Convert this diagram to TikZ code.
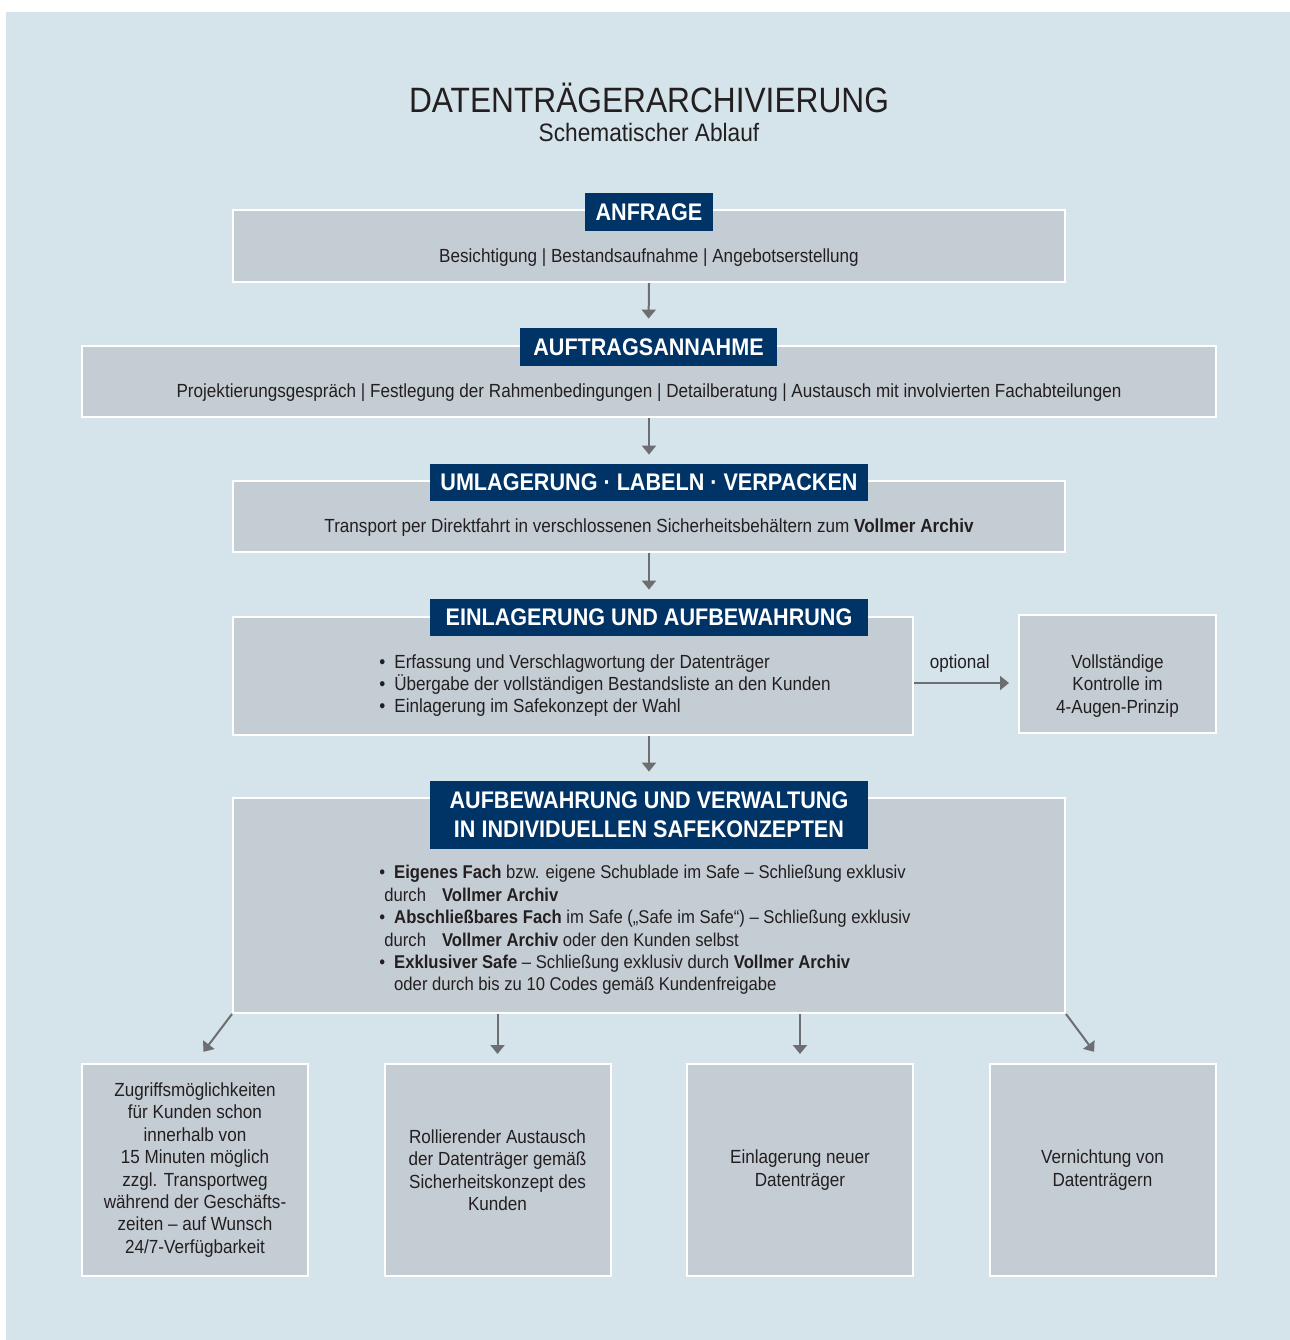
\documentclass[tikz,border=0pt]{standalone}
\usepackage{fontspec}
\setmainfont{Liberation Sans}[FakeStretch=0.9]
\usetikzlibrary{arrows.meta, calc}
\definecolor{bgblue}{RGB}{213,227,234}
\definecolor{boxgray}{RGB}{197,205,212}
\definecolor{navy}{RGB}{0,51,102}
\definecolor{arrowgray}{RGB}{109,110,113}
\definecolor{textdark}{RGB}{35,31,32}
\newcommand{\bul}{•\hspace{4.5pt}}

\begin{document}
\begin{tikzpicture}[
		x=0.5pt, y=-0.5pt,
		font=\fontsize{9.5}{11.2}\selectfont,
		text=textdark,
		box/.style={draw=white, line width=1pt, fill=boxgray, inner sep=0pt, align=center},
		head/.style={fill=navy, text=white, inner sep=0pt, align=center, font=\fontsize{12}{14.5}\selectfont\bfseries},
		list/.style={anchor=north west, inner sep=0pt, align=left},
		flow/.style={draw=arrowgray, line width=1pt, -{Triangle[width=7pt, length=4.5pt]}, shorten >=4.5pt},
	]
	\useasboundingbox (0,0) rectangle (1290,1340);
	\fill[bgblue] (6,12) rectangle (1290,1340);

	\node[anchor=base] (title) at (649,112) {\fontsize{17.6}{20}\selectfont DATENTRÄGERARCHIVIERUNG};
	\node[anchor=base] (subtitle) at (649,141) {\fontsize{12.6}{14}\selectfont Schematischer Ablauf};

	\node[box, minimum width=416pt, minimum height=36pt] (anfrage) at (649,246) {};
	\node[head, minimum width=64pt, minimum height=19pt] (anfrage-head) at (649,212) {ANFRAGE};
	\node[anchor=base] (anfrage-text) at (649,262) {Besichtigung | Bestandsaufnahme | Angebotserstellung};

	\node[box, minimum width=567pt, minimum height=35.5pt] (auftrag) at (649,381.5) {};
	\node[head, minimum width=128.5pt, minimum height=19pt] (auftrag-head) at (648.5,347) {AUFTRAGSANNAHME};
	\node[anchor=base] (auftrag-text) at (649,397) {Projektierungsgespräch | Festlegung der Rahmenbedingungen | Detailberatung | Austausch mit involvierten Fachabteilungen};

	\node[box, minimum width=416pt, minimum height=35.5pt] (umlagerung) at (649,516.5) {};
	\node[head, minimum width=219pt, minimum height=18.5pt] (umlagerung-head) at (649,482.5) {UMLAGERUNG · LABELN · VERPACKEN};
	\node[anchor=base] (umlagerung-text) at (649,532) {Transport per Direktfahrt in verschlossenen Sicherheitsbehältern zum \textbf{Vollmer Archiv}};

	\node[box, minimum width=340pt, minimum height=59pt] (einlagerung) at (573,676) {};
	\node[head, minimum width=219pt, minimum height=18.5pt] (einlagerung-head) at (649,617.5) {EINLAGERUNG UND AUFBEWAHRUNG};
	\node[list] (einlagerung-text) at (379,654) {%
		\bul Erfassung und Verschlagwortung der Datenträger\\
		\bul Übergabe der vollständigen Bestandsliste an den Kunden\\
		\bul Einlagerung im Safekonzept der Wahl};

	\node[box, minimum width=98.5pt, minimum height=59pt] (kontrolle) at (1117.5,674) {};
	\node[align=center, inner sep=0pt] (kontrolle-text) at (1117.5,686) {Vollständige\\Kontrolle im\\4-Augen-Prinzip};

	\node[box, minimum width=416pt, minimum height=107.5pt] (verwaltung) at (649,905.5) {};
	\node[head, minimum width=219pt, minimum height=34pt] (verwaltung-head) at (649,815) {AUFBEWAHRUNG UND VERWALTUNG\\IN INDIVIDUELLEN SAFEKONZEPTEN};
	\node[list, font=\fontsize{9.25}{11.2}\selectfont] (verwaltung-text) at (379,865) {%
		\bul\textbf{Eigenes Fach} bzw. eigene Schublade im Safe – Schließung exklusiv\\
		\hspace*{2.5pt}durch\hspace{8pt}\textbf{Vollmer Archiv}\\
		\bul\textbf{Abschließbares Fach} im Safe („Safe im Safe“) – Schließung exklusiv\\
		\hspace*{2.5pt}durch\hspace{8pt}\textbf{Vollmer Archiv} oder den Kunden selbst\\
		\bul\textbf{Exklusiver Safe} – Schließung exklusiv durch \textbf{Vollmer Archiv}\\
		\hphantom{\bul}oder durch bis zu 10 Codes gemäß Kundenfreigabe};

	\node[box, minimum width=113pt, minimum height=106pt] (zugriff) at (195,1170) {Zugriffsmöglichkeiten\\für Kunden schon\\innerhalb von\\15 Minuten möglich\\zzgl. Transportweg\\während der Geschäfts-\\zeiten – auf Wunsch\\24/7-Verfügbarkeit};
	\node[box, minimum width=113pt, minimum height=106pt] (austausch) at (497.5,1170) {Rollierender Austausch\\der Datenträger gemäß\\Sicherheitskonzept des\\Kunden};
	\node[box, minimum width=113pt, minimum height=106pt] (neu) at (800,1170) {Einlagerung neuer\\Datenträger};
	\node[box, minimum width=113pt, minimum height=106pt] (vernichtung) at (1102.5,1170) {Vernichtung von\\Datenträgern};

	\foreach \i/\j in {anfrage/auftrag-head, auftrag/umlagerung-head, umlagerung/einlagerung-head}
		\draw[flow] (\i.south) -- (\j.north);
	\draw[flow] (einlagerung.south -| verwaltung-head.north) -- (verwaltung-head.north);
	\draw[flow] ([yshift=-3.5pt]einlagerung.east) -- ([yshift=-3.5pt]einlagerung.east -| kontrolle.west)
		node[pos=0.44, above=5pt, inner sep=0pt] (optional) {optional};

	\draw[flow, shorten >=7pt] (verwaltung.south west) -- (zugriff.north);
	\draw[flow, shorten >=7pt] (verwaltung.south east) -- (vernichtung.north);
	\foreach \j in {austausch, neu}
		\draw[flow] (verwaltung.south -| \j.north) -- (\j.north);
\end{tikzpicture}
\end{document}
